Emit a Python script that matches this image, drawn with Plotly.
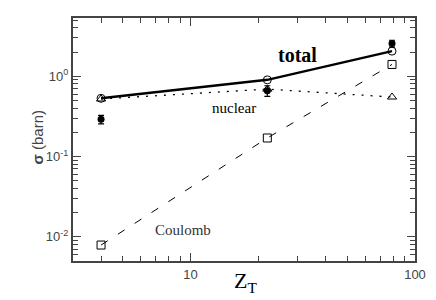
import numpy as np
import plotly.graph_objects as go

Z = [4, 22, 79]
total = [0.53, 0.90, 2.05]
nuclear = [0.52, 0.69, 0.55]
coulomb = [0.0079, 0.17, 1.40]
exp_vals = [0.29, 0.66, 2.55]
exp_err = [0.035, 0.10, 0.25]

x_major = [10, 100]
x_major_text = ["10", "100"]
x_minor = [3, 4, 5, 6, 7, 8, 9, 20, 30, 40, 50, 60, 70, 80, 90]
y_major = [0.01, 0.1, 1]
y_major_text = ["10<sup>-2</sup>", "10<sup>-1</sup>", "10<sup>0</sup>"]
y_minor = [m * d for d in [0.001, 0.01, 0.1, 1] for m in range(2, 10)]

fig = go.Figure()
fig.add_trace(go.Scatter(x=Z, y=coulomb, mode="lines+markers",
                         line=dict(color="black", width=1, dash="8px,12px"),
                         marker=dict(symbol="square-open", size=8, color="black", line=dict(width=1))))
fig.add_trace(go.Scatter(x=Z, y=nuclear, mode="lines+markers",
                         line=dict(color="black", width=1.3, dash="2px,7px"),
                         marker=dict(symbol="triangle-up-open", size=8, color="black", line=dict(width=1))))
fig.add_trace(go.Scatter(x=Z, y=total, mode="lines+markers",
                         line=dict(color="black", width=2.5),
                         marker=dict(symbol="circle-open", size=8, color="black", line=dict(width=1))))
fig.add_trace(go.Scatter(x=Z, y=exp_vals, mode="markers",
                         error_y=dict(type="data", array=exp_err, color="black", thickness=1.2, width=3),
                         marker=dict(symbol="circle", size=7, color="black")))

fig.add_annotation(x=np.log10(30), y=np.log10(1.82), text="<b>total</b>", showarrow=False,
                   font=dict(family="Liberation Serif", size=20, color="black"))
fig.add_annotation(x=np.log10(15.6), y=np.log10(0.40), text="nuclear", showarrow=False,
                   font=dict(family="Liberation Serif", size=15, color="black"))
fig.add_annotation(x=np.log10(9.3), y=np.log10(0.0121), text="Coulomb", showarrow=False,
                   font=dict(family="Liberation Serif", size=15, color="#333"))
# axis titles
fig.add_annotation(xref="paper", yref="paper", x=0.505, y=-0.088, yanchor="middle", text="Z<sub>T</sub>",
                   showarrow=False, font=dict(family="Liberation Serif", size=22, color="black"))
fig.add_annotation(xref="paper", yref="paper", x=-0.135, y=0.51, textangle=-90, text="<b>σ</b> (barn)",
                   showarrow=False, font=dict(family="Liberation Sans", size=15, color="#444"))

axcol = "#444"
fig.update_xaxes(type="log", range=[np.log10(3), 2], tickmode="array", tickvals=x_major, ticktext=x_major_text,
                 ticks="inside", ticklen=8, tickwidth=1, tickcolor=axcol,
                 minor=dict(tickmode="array", tickvals=x_minor, ticks="inside", ticklen=5, tickcolor=axcol),
                 showline=True, linecolor=axcol, linewidth=2, mirror="allticks", showgrid=False, zeroline=False,
                 tickfont=dict(family="Liberation Sans", size=13, color="#444"), automargin=False)
fig.update_yaxes(type="log", range=[np.log10(0.005), np.log10(5.3)], tickmode="array", tickvals=y_major, ticktext=y_major_text,
                 ticks="inside", ticklen=8, tickwidth=1, tickcolor=axcol,
                 minor=dict(tickmode="array", tickvals=y_minor, ticks="inside", ticklen=5, tickcolor=axcol),
                 showline=True, linecolor=axcol, linewidth=2, mirror="allticks", showgrid=False, zeroline=False,
                 tickfont=dict(family="Liberation Sans", size=13, color="#444"), automargin=False)
fig.update_layout(width=436, height=300, margin=dict(l=73, r=21, t=18, b=39),
                  plot_bgcolor="white", paper_bgcolor="white", showlegend=False)
fig.write_html("out.html", config={"displayModeBar": False},
               post_script="document.body.style.margin='0';document.body.style.overflow='hidden';")
